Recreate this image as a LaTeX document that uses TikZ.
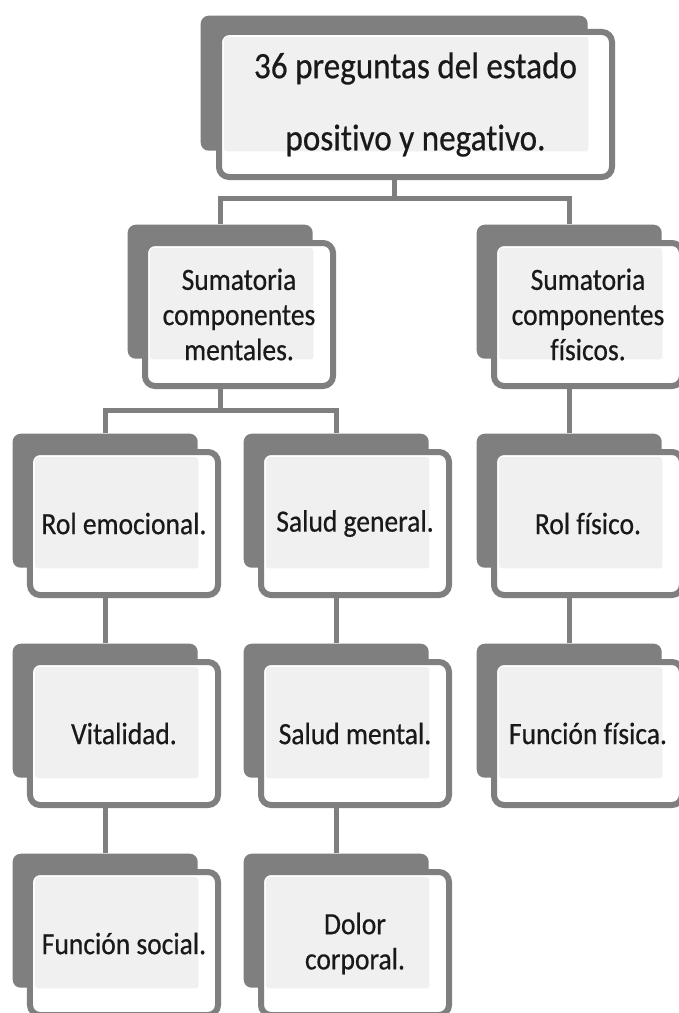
\documentclass[tikz,border=0pt]{standalone}
\usepackage{fontspec}
\setmainfont[FakeStretch=0.89, FakeBold=0.5, Ligatures=NoCommon]{Carlito}
\usetikzlibrary{positioning}
\definecolor{gris}{HTML}{7F7F7F}
\definecolor{tinte}{HTML}{F0F0F0}
\tikzset{
  fondo/.style={rectangle, rounded corners=0.08cm, fill=gris, minimum width=1.85cm, minimum height=1.34cm, inner sep=0pt, anchor=north west},
  frente/.style={rectangle, rounded corners=0.1cm, draw=gris, line width=0.06cm, fill=white,
    minimum width=1.88cm, minimum height=1.43cm, inner sep=0pt, align=center,
    font=\fontsize{8.8}{10}\selectfont, text=black!90,
    below right=0.16cm and 0.15cm of #1.north west,
    path picture={\fill[tinte, rounded corners=0.03cm] ([shift={(0.05cm,-0.05cm)}]path picture bounding box.north west) rectangle (#1.south east);}},
  conector/.style={draw=gris, line width=0.05cm}
}
\newcommand{\fondos}{
\node[fondo, minimum width=3.87cm, minimum height=1.35cm] (arriba) at (2.00,-0.15) {};
\node[fondo] (mentales) at (1.27,-2.24) {};
\node[fondo] (fisicos) at (4.76,-2.24) {};
\node[fondo] (remocional) at (0.12,-4.33) {};
\node[fondo] (sgeneral) at (2.43,-4.33) {};
\node[fondo] (rfisico) at (4.76,-4.33) {};
\node[fondo] (vitalidad) at (0.12,-6.43) {};
\node[fondo] (smental) at (2.43,-6.43) {};
\node[fondo] (ffisica) at (4.76,-6.43) {};
\node[fondo] (fsocial) at (0.12,-8.53) {};
\node[fondo] (dolor) at (2.43,-8.53) {};
}
\newcommand{\frentes}{
\node[frente=arriba, below right=0.14cm and 0.16cm of arriba.north west, minimum width=3.93cm, minimum height=1.45cm,
  font=\fontsize{10.6}{20.5}\selectfont] (arriba-f) {36 preguntas del estado\\positivo y negativo.};
\node[frente=mentales] (mentales-f) {Sumatoria\\componentes\\mentales.};
\node[frente=fisicos] (fisicos-f) {Sumatoria\\componentes\\físicos.};
\node[frente=remocional] (remocional-f) {Rol emocional.};
\node[frente=sgeneral] (sgeneral-f) {Salud general.};
\node[frente=rfisico] (rfisico-f) {Rol físico.};
\node[frente=vitalidad] (vitalidad-f) {Vitalidad.};
\node[frente=smental] (smental-f) {Salud mental.};
\node[frente=ffisica] (ffisica-f) {Función física.};
\node[frente=fsocial] (fsocial-f) {Función social.};
\node[frente=dolor] (dolor-f) {Dolor\\corporal.};
}

\begin{document}
\begin{tikzpicture}
\fill[white] (0,0) rectangle (6.79,-10.13);
\useasboundingbox (0,0) rectangle (6.79,-10.13);

% fondos
\fondos

% conectores
\draw[conector] (arriba.south) -- ++(0,-0.47) coordinate (barraA);
\draw[conector] (mentales.north) |- (barraA) -| (fisicos.north);
\draw[conector] (mentales.south) -- ++(0,-0.51) coordinate (barraB);
\draw[conector] (remocional.north) |- (barraB) -| (sgeneral.north);
\draw[conector] (fisicos.south) -- (rfisico.north);
\draw[conector] (rfisico.south) -- (ffisica.north);
\draw[conector] (remocional.south) -- (vitalidad.north);
\draw[conector] (vitalidad.south) -- (fsocial.north);
\draw[conector] (sgeneral.south) -- (smental.north);
\draw[conector] (smental.south) -- (dolor.north);

% frentes
\frentes
\end{tikzpicture}
\end{document}
